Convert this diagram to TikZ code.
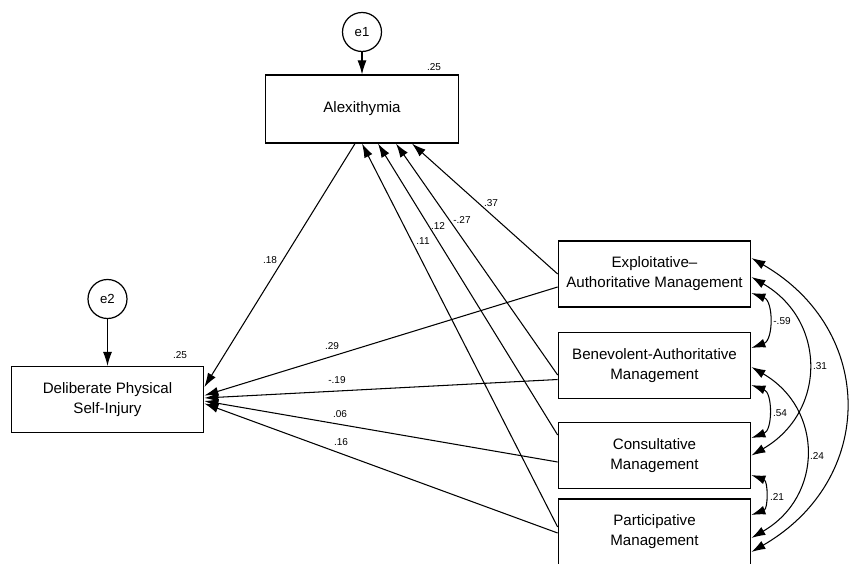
\documentclass[tikz,border=0pt]{standalone}
\usepackage{fontspec}
\setmainfont{Liberation Sans}
\usetikzlibrary{arrows.meta}
\tikzset{
  var/.style={draw, line width=0.7pt, minimum width=3.85cm, minimum height=1.32cm, align=center, font=\fontsize{8.6}{11.4}\selectfont},
  err/.style={draw, circle, line width=0.7pt, minimum size=0.78cm, inner sep=0pt, font=\fontsize{7.5}{9}\selectfont},
  coef/.style={inner sep=1pt, font=\fontsize{5.7}{7}\selectfont}
}
\begin{document}
\begin{tikzpicture}[>={Latex[length=0.28cm,width=0.18cm]}, line width=0.6pt]
\useasboundingbox (0,0) rectangle (16.98,11.26);
\node[var, minimum height=1.36cm] (alex) at (7.24,9.08) {Alexithymia};
\node[err] (e1) at (7.24,10.62) {e1};
\node[var] (dpsi) at (2.15,3.27) {Deliberate Physical\\Self-Injury};
\node[err] (e2) at (2.15,5.28) {e2};
\node[var] (exa) at (13.09,5.78) {Exploitative--\\Authoritative Management};
\node[var] (bea) at (13.09,3.95) {Benevolent-Authoritative\\Management};
\node[var] (con) at (13.09,2.15) {Consultative\\Management};
\node[var] (par) at (13.09,0.62) {Participative\\Management};
% error terms
\draw[->](e1)--(alex);
\draw[->](e2)--(dpsi);
% paths to alexithymia
\draw[->](exa.west)--([xshift=1cm]alex.south);
\draw[->]([yshift=-0.19cm]bea.west)--([xshift=0.68cm]alex.south);
\draw[->]([yshift=0.41cm]con.west)--([xshift=0.32cm]alex.south);
\draw[->]([yshift=0.1cm]par.west)--(alex.south);
% paths to self-injury
\draw[->]([xshift=-0.14cm]alex.south)--([yshift=0.25cm]dpsi.east);
\draw[->]([yshift=-0.26cm]exa.west)--([yshift=0.08cm]dpsi.east);
\draw[->]([yshift=-0.28cm]bea.west)--([yshift=0.03cm]dpsi.east);
\draw[->]([yshift=-0.13cm]con.west)--([yshift=-0.03cm]dpsi.east);
\draw[->]([yshift=-0.02cm]par.west)--([yshift=-0.08cm]dpsi.east);
% covariances
\draw[<->]([yshift=-0.38cm]exa.east) to[bend left=70, looseness=1.1] ([yshift=0.35cm]bea.east);
\draw[<->]([yshift=-0.06cm]exa.east) to[bend left=60, looseness=1.25] (con.east);
\draw[<->]([yshift=0.32cm]exa.east) to[bend left=60, looseness=1.26] ([yshift=-0.4cm]par.east);
\draw[<->]([yshift=-0.39cm]bea.east) to[bend left=70, looseness=1.1] ([yshift=0.35cm]con.east);
\draw[<->]([yshift=-0.03cm]bea.east) to[bend left=60, looseness=1.25] ([yshift=-0.12cm]par.east);
\draw[<->]([yshift=-0.39cm]con.east) to[bend left=70, looseness=1.15] ([yshift=0.34cm]par.east);
% estimates
\foreach \x/\y/\t [count=\i] in {8.68/9.92/.25, 3.6/4.16/.25, 9.82/7.2/.37, 9.24/6.86/-.27, 8.76/6.74/.12, 8.46/6.44/.11, 5.4/6.06/.18, 6.64/4.34/.29, 6.74/3.66/-.19, 6.8/2.98/.06, 6.82/2.42/.16, 15.64/4.84/-.59, 16.4/3.94/.31, 15.6/3.0/.54, 16.34/2.14/.24, 15.54/1.32/.21}
{
    \node[coef] (k\i) at (\x,\y) {\t};
}
\end{tikzpicture}
\end{document}
